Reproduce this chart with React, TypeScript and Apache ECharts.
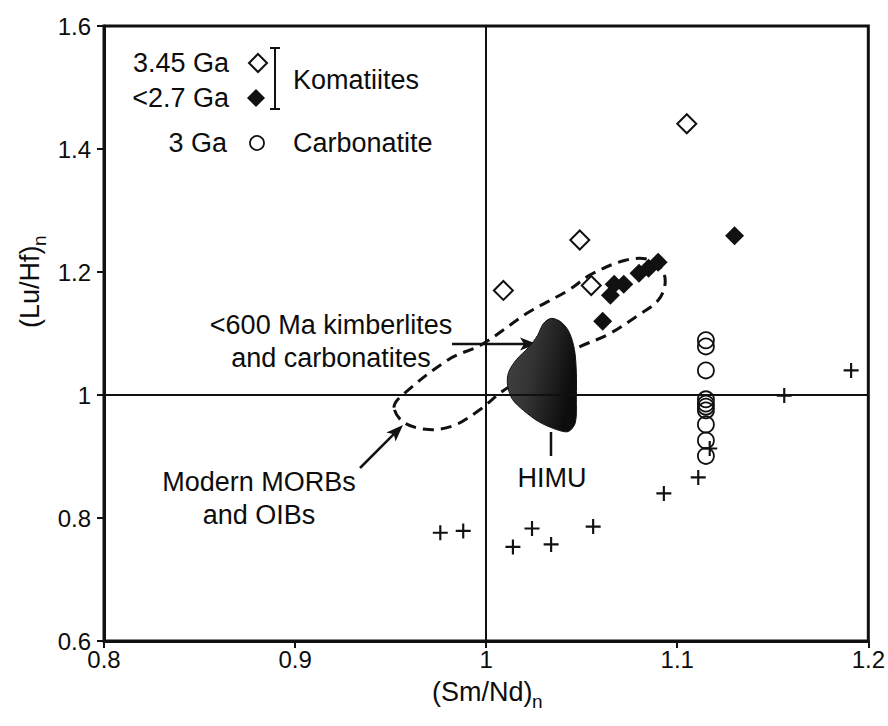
import React, { useEffect, useRef } from "react";
import * as echarts from "echarts";

// (Sm/Nd)n, (Lu/Hf)n pairs
const komatiites345: [number, number][] = [
  [1.009, 1.170],
  [1.049, 1.252],
  [1.055, 1.178],
  [1.105, 1.441],
];

const komatiites27: [number, number][] = [
  [1.061, 1.120],
  [1.065, 1.162],
  [1.067, 1.180],
  [1.072, 1.180],
  [1.080, 1.198],
  [1.085, 1.206],
  [1.090, 1.216],
  [1.130, 1.259],
];

const carbonatite3: [number, number][] = [
  [1.115, 1.089],
  [1.115, 1.079],
  [1.115, 1.040],
  [1.115, 0.993],
  [1.115, 0.986],
  [1.115, 0.981],
  [1.115, 0.975],
  [1.115, 0.952],
  [1.115, 0.926],
  [1.115, 0.901],
];

const otherSamples: [number, number][] = [
  [0.976, 0.776],
  [0.988, 0.779],
  [1.014, 0.753],
  [1.024, 0.783],
  [1.034, 0.757],
  [1.056, 0.786],
  [1.093, 0.840],
  [1.111, 0.866],
  [1.117, 0.913],
  [1.156, 0.999],
  [1.191, 1.040],
];

// outline of the modern MORB / OIB and young kimberlite field
const morbField: [number, number][] = [
  [0.9518, 0.9796],
  [0.9559, 0.9992],
  [0.9804, 1.0578],
  [0.9977, 1.0822],
  [1.0222, 1.1344],
  [1.0430, 1.1702],
  [1.0550, 1.1963],
  [1.0728, 1.2191],
  [1.0847, 1.2207],
  [1.0920, 1.2044],
  [1.0936, 1.1800],
  [1.0900, 1.1539],
  [1.0795, 1.1295],
  [1.0639, 1.0985],
  [1.0482, 1.0774],
  [1.0274, 1.0415],
  [1.0091, 1.0073],
  [0.9961, 0.9748],
  [0.9831, 0.9503],
  [0.9700, 0.9438],
  [0.9570, 0.9552],
];

// outline of the HIMU field
const himuField: [number, number][] = [
  [1.0342, 1.1246],
  [1.0394, 1.1181],
  [1.0435, 1.1018],
  [1.0462, 1.0741],
  [1.0472, 1.0366],
  [1.0472, 0.9959],
  [1.0467, 0.9552],
  [1.0430, 0.9405],
  [1.0368, 0.9438],
  [1.0274, 0.9568],
  [1.0196, 0.9748],
  [1.0138, 0.9927],
  [1.0112, 1.0155],
  [1.0117, 1.0366],
  [1.0159, 1.0578],
  [1.0222, 1.0774],
  [1.0269, 1.0969],
  [1.0300, 1.1164],
];

const xTicks = { min: 0.8, max: 1.2, interval: 0.1 };
const yTicks = { min: 0.6, max: 1.6, interval: 0.2 };

const FONT = "Liberation Sans, Arial, sans-serif";
const FS = 27;
const TICK_FS = 24;

function txt(text: string, x: number, y: number, align: string, size = FS, extra: any = {}) {
  return {
    type: "text",
    x,
    y,
    silent: true,
    style: {
      text,
      fill: "#0d0d0d",
      font: `${size}px ${FONT}`,
      align,
      textAlign: align,
      verticalAlign: "middle",
      textVerticalAlign: "middle",
    },
    ...extra,
  };
}

function arrow(x1: number, y1: number, x2: number, y2: number) {
  const dx = x2 - x1;
  const dy = y2 - y1;
  const len = Math.sqrt(dx * dx + dy * dy);
  const ux = dx / len;
  const uy = dy / len;
  const head = 17;
  const half = 6.5;
  const bx = x2 - ux * head;
  const by = y2 - uy * head;
  return [
    {
      type: "line",
      silent: true,
      shape: { x1, y1, x2: bx + ux * 4, y2: by + uy * 4 },
      style: { stroke: "#111", lineWidth: 2.5 },
    },
    {
      type: "polygon",
      silent: true,
      shape: {
        points: [
          [x2, y2],
          [bx - uy * half, by + ux * half],
          [bx + ux * 4, by + uy * 4],
          [bx + uy * half, by - ux * half],
        ],
      },
      style: { fill: "#111" },
    },
  ];
}

const plusPath = "path://M6,0h2v6h6v2h-6v6h-2v-6h-6v-2h6z";

export default function App() {
  const ref = useRef<HTMLDivElement>(null);

  useEffect(() => {
    if (!ref.current) return;
    const chart = echarts.init(ref.current, null, { renderer: "svg" });

    const graphic: any[] = [
      // legend
      txt("3.45 Ga", 229, 63, "right"),
      {
        type: "polygon",
        silent: true,
        shape: { points: [[258, 54], [267, 63], [258, 72], [249, 63]] },
        style: { fill: "#fff", stroke: "#111", lineWidth: 2 },
      },
      txt("<2.7 Ga", 229, 98, "right"),
      {
        type: "polygon",
        silent: true,
        shape: { points: [[256, 89], [265, 98], [256, 107], [247, 98]] },
        style: { fill: "#111" },
      },
      { type: "line", silent: true, shape: { x1: 275, y1: 48, x2: 275, y2: 109 }, style: { stroke: "#111", lineWidth: 2 } },
      { type: "line", silent: true, shape: { x1: 270, y1: 48, x2: 280, y2: 48 }, style: { stroke: "#111", lineWidth: 2 } },
      { type: "line", silent: true, shape: { x1: 270, y1: 109, x2: 280, y2: 109 }, style: { stroke: "#111", lineWidth: 2 } },
      txt("Komatiites", 293, 80, "left"),
      txt("3 Ga", 227, 143, "right"),
      {
        type: "circle",
        silent: true,
        shape: { cx: 257, cy: 143, r: 7 },
        style: { fill: "none", stroke: "#111", lineWidth: 1.8 },
      },
      txt("Carbonatite", 293, 143, "left"),

      // annotations
      txt("<600 Ma kimberlites", 331, 325, "center"),
      txt("and carbonatites", 331, 358, "center"),
      ...arrow(452, 344, 537, 344),
      txt("Modern MORBs", 259, 482, "center"),
      txt("and OIBs", 259, 515, "center"),
      ...arrow(360, 468, 403, 425),
      { type: "line", silent: true, shape: { x1: 551, y1: 432, x2: 551, y2: 456 }, style: { stroke: "#111", lineWidth: 2.5 } },
      txt("HIMU", 552, 478, "center"),

      // axis titles with subscripts
      txt("(Sm/Nd)", 432, 692, "left"),
      txt("n", 532, 701, "left", 19),
      {
        type: "group",
        x: 30,
        y: 282,
        rotation: Math.PI / 2,
        children: [txt("(Lu/Hf)", -46, 0, "left"), txt("n", 36, 9, "left", 19)],
      },
    ];

    chart.setOption({
      animation: false,
      backgroundColor: "#fff",
      grid: {
        left: 104,
        right: 17,
        top: 26,
        bottom: 85,
        show: true,
        borderColor: "#111",
        borderWidth: 3,
        backgroundColor: "#fff",
      },
      xAxis: {
        type: "value",
        min: xTicks.min,
        max: xTicks.max,
        interval: xTicks.interval,
        axisLine: { show: true, onZero: false, lineStyle: { color: "#111", width: 3 } },
        axisTick: { show: true, inside: false, length: 7, lineStyle: { color: "#111", width: 2 } },
        axisLabel: { color: "#0d0d0d", fontSize: TICK_FS, fontFamily: FONT, margin: 6, formatter: (v: number) => String(Math.round(v * 10) / 10) },
        splitLine: { show: false },
      },
      yAxis: {
        type: "value",
        min: yTicks.min,
        max: yTicks.max,
        interval: yTicks.interval,
        axisLine: { show: true, onZero: false, lineStyle: { color: "#111", width: 3 } },
        axisTick: { show: true, inside: false, length: 7, lineStyle: { color: "#111", width: 2 } },
        axisLabel: { color: "#0d0d0d", fontSize: TICK_FS, fontFamily: FONT, margin: 13, formatter: (v: number) => String(Math.round(v * 10) / 10) },
        splitLine: { show: false },
      },
      graphic,
      series: [
        {
          type: "custom",
          name: "MORB field",
          silent: true,
          z: 1,
          data: [[1, 1]],
          renderItem: (_p: any, api: any) => ({
            type: "polygon",
            shape: { points: morbField.map((p) => api.coord(p)), smooth: 0.35 },
            style: { fill: "none", stroke: "#111", lineWidth: 3, lineDash: [11, 7] },
          }),
        },
        {
          type: "custom",
          name: "HIMU",
          silent: true,
          z: 2,
          data: [[1, 1]],
          renderItem: (_p: any, api: any) => ({
            type: "polygon",
            shape: { points: himuField.map((p) => api.coord(p)), smooth: 0.3 },
            style: {
              fill: new echarts.graphic.LinearGradient(0, 0, 1, 0.3, [
                { offset: 0, color: "#454545" },
                { offset: 0.45, color: "#333" },
                { offset: 1, color: "#0d0d0d" },
              ]),
              stroke: "#111",
              lineWidth: 1,
            },
          }),
        },
        {
          type: "scatter",
          name: "Other",
          z: 3,
          symbol: plusPath,
          symbolSize: 15,
          itemStyle: { color: "#111", opacity: 1 },
          data: otherSamples,
          markLine: {
            silent: true,
            symbol: ["none", "none"],
            label: { show: false },
            lineStyle: { color: "#111", width: 2, type: "solid" },
            data: [{ xAxis: 1 }, { yAxis: 1 }],
          },
        },
        {
          type: "scatter",
          name: "3 Ga carbonatite",
          z: 4,
          symbol: "circle",
          symbolSize: 16,
          itemStyle: { color: "rgba(0,0,0,0)", borderColor: "#111", borderWidth: 1.8, opacity: 1 },
          data: carbonatite3,
        },
        {
          type: "scatter",
          name: "3.45 Ga komatiites",
          z: 5,
          symbol: "diamond",
          symbolSize: 19,
          itemStyle: { color: "#fff", borderColor: "#111", borderWidth: 2, opacity: 1 },
          data: komatiites345,
        },
        {
          type: "scatter",
          name: "<2.7 Ga komatiites",
          z: 6,
          symbol: "diamond",
          symbolSize: 19,
          itemStyle: { color: "#111", opacity: 1 },
          data: komatiites27,
        },
      ],
    });

    return () => chart.dispose();
  }, []);

  return (
    <div
      ref={ref}
      style={{ position: "fixed", left: 0, top: 0, width: 888, height: 726, background: "#fff" }}
    />
  );
}
